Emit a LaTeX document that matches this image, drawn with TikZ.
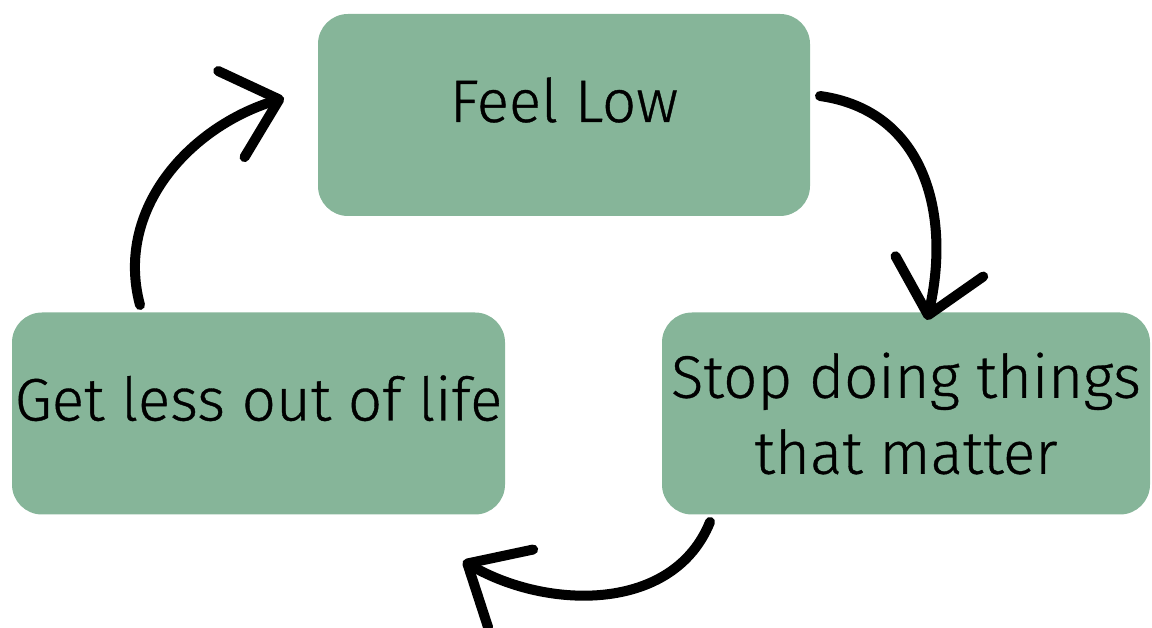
\documentclass[tikz,border=0pt]{standalone}
\usepackage{fontspec}
\setmainfont{Fira Sans}[UprightFont=* Light, FakeBold=0.6]
\usetikzlibrary{arrows.meta}
\definecolor{sage}{RGB}{134,181,153}

\begin{document}
\begin{tikzpicture}[x=1pt, y=1pt,
    box/.style={fill=sage, rounded corners=30pt, minimum width=492pt,
      minimum height=202pt, inner sep=0pt, align=center,
      font=\fontsize{60}{76}\selectfont},
    oneline/.style={text height=41pt, text depth=27pt},
    cyclearrow/.style={line width=10pt, line cap=round,
      -{Straight Barb[length=50pt, width=90pt, round]}}]
  \useasboundingbox (0,0) rectangle (1152,628);
  \node[box, oneline] (low) at (564,513) {Feel Low};
  \node[box, oneline, minimum width=493pt] (less) at (258.5,214.5) {Get less out of life};
  \node[box, minimum width=488pt] (stop) at (906,214.5) {Stop doing things\\that matter};
  \coordinate (lessout) at (140,323);
  \coordinate (lowin) at (284,530);
  \coordinate (lowout) at (820,532);
  \coordinate (stopin) at (927,308);
  \coordinate (stopout) at (710,106);
  \coordinate (lessin) at (463,67);
  \draw[cyclearrow] (lessout) to[out=105, in=197] (lowin);
  \draw[cyclearrow] (lowout) to[out=-8, in=77, looseness=1.1] (stopin);
  \draw[cyclearrow] (stopout) to[out=248, in=330] (lessin);
\end{tikzpicture}
\end{document}
